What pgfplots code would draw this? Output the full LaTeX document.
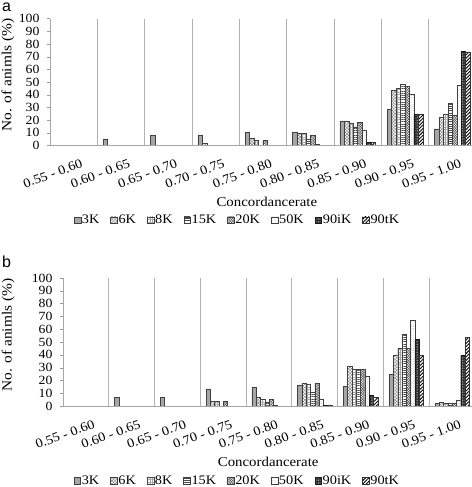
\documentclass[border=0pt]{standalone}
\usepackage{pgfplots}
\pgfplotsset{compat=1.18}
\usepackage{pgfplotstable}
\usepackage{fontspec}
\setmainfont{Liberation Serif}[FakeStretch=1.1]
\newfontfamily\labelfont{Liberation Sans}
\usetikzlibrary{patterns,patterns.meta}

\pgfplotstableread{
x k3 k6 k8 k15 k20 k50 k90i k90t
0 0 0 0 0 0 0 0 0
1 5 0 0 0 0 0 0 0
2 8 0 0 0 0 0 0 0
3 8.2 1.6 0 0 0 0 0 0
4 10.3 5.5 3.9 0 3.9 0 0 0
5 10.3 9.7 9.7 4.7 7.9 0.5 0 0
6 19.2 19.2 17.4 14.5 18.2 11.8 2.1 2.1
7 28.2 43.4 44.7 48.4 46.8 40.5 24.2 24.7
8 12.9 21.8 24.7 33.2 23.7 47.4 74.2 73.7
}\dataA

\pgfplotstableread{
x k3 k6 k8 k15 k20 k50 k90i k90t
0 0 0 0 0 0 0 0 0
1 6.5 0 0 0 0 0 0 0
2 7 0 0 0 0 0 0 0
3 13.3 3.4 3.4 0 3.4 0 0 0
4 15 6.8 5 3 5 0.8 0 0
5 16.4 17.6 16.8 10.4 17.6 5.5 0.5 0.5
6 15.4 31 28.9 28.9 28.9 23.2 8.1 6.8
7 24.7 39.6 44.8 56 44.8 66.7 51.8 39.6
8 2.3 3.1 2.3 2.3 1.8 4.2 39.6 53.6
}\dataB

\pgfplotsset{
  s3/.style={draw=black!75, fill=black!35},
  s6/.style={draw=black!75, pattern={Hatch[angle=45,distance=2.2bp,line width=0.4bp]}, pattern color=black!50},
  s8/.style={draw=black!75, pattern={Hatch[angle=0,distance=2.5bp,line width=0.3bp]}, pattern color=black!35},
  s15/.style={draw=black!75, pattern={Lines[angle=0,distance=2.2bp,line width=0.6bp]}, pattern color=black!70},
  s20/.style={draw=black!75, pattern={Hatch[angle=45,distance=1.8bp,line width=0.5bp]}, pattern color=black!65},
  s50/.style={draw=black!75, pattern={Dots[distance=2.2bp,radius=0.3bp]}, pattern color=black!45},
  s90i/.style={draw=black!90, fill=black!85, postaction={pattern={Dots[distance=1.6bp,radius=0.35bp]}, pattern color=white}},
  s90t/.style={draw=black!80, pattern={Lines[angle=45,distance=2.4bp,line width=0.9bp]}, pattern color=black},
  panel/.style={
    scale only axis, anchor=south west,
    xmin=-0.5, xmax=8.5, ymin=0, ymax=100,
    ybar=0pt,
    axis on top,
    axis x line=bottom, axis y line=left,
    axis line style={-, draw=black!35, line width=0.8pt},
    xtick={0,...,8},
    xticklabels={0.55 - 0.60, 0.60 - 0.65, 0.65 - 0.70, 0.70 - 0.75, 0.75 - 0.80, 0.80 - 0.85, 0.85 - 0.90, 0.90 - 0.95, 0.95 - 1.00},
    xtick style={draw=none},
    x tick label style={rotate=20, anchor=north east, inner sep=0pt, yshift=-12bp, xshift=3bp, font=\fontsize{13bp}{14bp}\selectfont},
    extra x ticks={0.5,1.5,...,7.5},
    extra x tick labels={},
    extra x tick style={grid=major, major grid style={draw=black!30, line width=0.8pt}},
    ytick={0,10,...,100},
    y tick label style={font=\fontsize{12.5bp}{13bp}\selectfont, xshift=-4bp, /pgf/number format/assume math mode=true},
    ytick style={draw=black!40},
    tick align=outside, major tick length=3bp,
    xlabel={Concordancerate},
    ylabel={No. of animls (\%)},
    xlabel style={font=\fontsize{13.5bp}{14bp}\selectfont, anchor=center},
    ylabel style={font=\fontsize{14bp}{15bp}\selectfont, anchor=center},
    legend columns=-1,
    legend image code/.code={\draw[#1] (0bp,-3.3bp) rectangle (6.7bp,3.3bp);},
    legend style={draw=none, fill=none, anchor=center, font=\fontsize{13bp}{14bp}\selectfont,
      inner sep=0pt, nodes={inner sep=1bp},
      /tikz/every even column/.append style={column sep=10bp}},
  }
}

\begin{document}
\begin{tikzpicture}
\useasboundingbox (0,0) rectangle (472bp,487bp);
\node[font=\labelfont\fontsize{16bp}{16bp}\selectfont, anchor=north west, inner sep=0pt] at (2bp,484bp) {a};
\node[font=\labelfont\fontsize{16bp}{16bp}\selectfont, anchor=north west, inner sep=0pt] at (2bp,231bp) {b};

\begin{axis}[panel, at={(50bp,341.7bp)}, width=426bp, height=126.7bp, bar width=4.45bp,
  xlabel style={at={(axis description cs:0.509,-0.447)}},
  ylabel style={at={(axis description cs:-0.0986,0.555)}},
  legend style={at={(axis description cs:0.439,-0.59)}}]
\addplot[s3] table[x=x,y=k3] {\dataA};
\addplot[s6] table[x=x,y=k6] {\dataA};
\addplot[s8] table[x=x,y=k8] {\dataA};
\addplot[s15] table[x=x,y=k15] {\dataA};
\addplot[s20] table[x=x,y=k20] {\dataA};
\addplot[s50] table[x=x,y=k50] {\dataA};
\addplot[s90i] table[x=x,y=k90i] {\dataA};
\addplot[s90t] table[x=x,y=k90t] {\dataA};
\legend{3K,6K,8K,15K,20K,50K,90iK,90tK}
\end{axis}

\begin{axis}[panel, at={(63bp,81bp)}, width=412bp, height=128bp, bar width=4.3bp,
  xlabel style={at={(axis description cs:0.498,-0.44)}},
  ylabel style={at={(axis description cs:-0.133,0.555)}},
  legend style={at={(axis description cs:0.422,-0.585)}}]
\addplot[s3] table[x=x,y=k3] {\dataB};
\addplot[s6] table[x=x,y=k6] {\dataB};
\addplot[s8] table[x=x,y=k8] {\dataB};
\addplot[s15] table[x=x,y=k15] {\dataB};
\addplot[s20] table[x=x,y=k20] {\dataB};
\addplot[s50] table[x=x,y=k50] {\dataB};
\addplot[s90i] table[x=x,y=k90i] {\dataB};
\addplot[s90t] table[x=x,y=k90t] {\dataB};
\legend{3K,6K,8K,15K,20K,50K,90iK,90tK}
\end{axis}
\end{tikzpicture}
\end{document}
